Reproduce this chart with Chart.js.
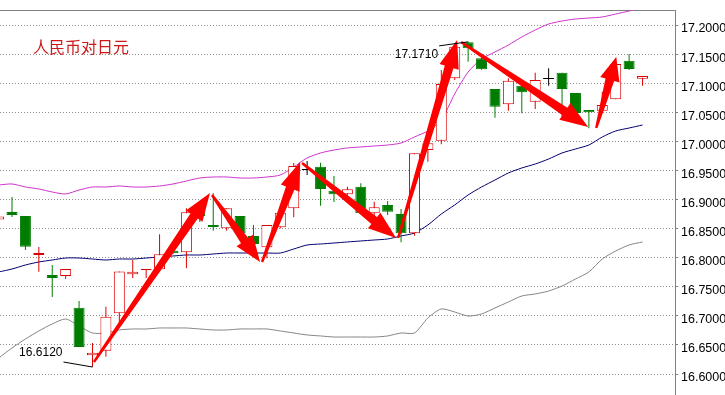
<!DOCTYPE html>
<html>
<head>
<meta charset="utf-8">
<style>
  html, body { margin: 0; padding: 0; background: #fff; }
  canvas { display: block; }
</style>
<script src="https://cdn.jsdelivr.net/npm/chart.js@4.4.1/dist/chart.umd.min.js"></script>
</head>
<body>
<canvas id="chart" width="725" height="395"></canvas>
<script>
// CNY/JPY daily candles
const opens  = [16.8656, 16.8785, 16.8717, 16.8046, 16.7702, 16.7685, 16.7140, 16.6322, 16.6401, 16.7044,
                16.7714, 16.7790, 16.7800, 16.8120, 16.8092, 16.8820, 16.8562, 16.8505, 16.8717, 16.8373,
                16.8178, 16.8522, 16.8849, 16.9507, 16.9564, 16.9151, 16.9090, 16.9220, 16.8763, 16.8906,
                16.8751, 16.8419, 16.9851, 17.0011, 17.1084, 17.1703, 17.1428, 17.0900, 17.0637, 17.0957,
                17.0681, 17.1072, 17.1180, 17.0831, 17.0539, 17.0527, 17.0723, 17.1386, 17.1077];
const highs  = [16.8730, 16.9043, 16.8717, 16.8184, 16.7874, 16.7805, 16.7255, 16.6533, 16.7157, 16.7762,
                16.7960, 16.7805, 16.8402, 16.8140, 16.8849, 16.8840, 16.9107, 16.8849, 16.8717, 16.8562,
                16.8562, 16.8773, 16.9628, 16.9662, 16.9633, 16.9404, 16.9220, 16.9279, 16.8962, 16.8974,
                16.8837, 16.9794, 17.0183, 17.1226, 17.1680, 17.1710, 17.1440, 17.0900, 17.1084, 17.0960,
                17.1180, 17.1256, 17.1180, 17.0831, 17.0539, 17.0853, 17.1428, 17.1501, 17.1123];
const lows   = [16.8640, 16.8699, 16.8132, 16.7759, 16.7324, 16.7633, 16.6464, 16.6120, 16.6298, 16.6877,
                16.7651, 16.7651, 16.7800, 16.8060, 16.7817, 16.8613, 16.8464, 16.8464, 16.8390, 16.8132,
                16.7989, 16.8505, 16.8694, 16.9421, 16.8894, 16.8957, 16.9026, 16.8763, 16.8488, 16.8734,
                16.8264, 16.8378, 16.9650, 16.9949, 17.1055, 17.1369, 17.1230, 17.0406, 17.0527, 17.0482,
                17.0556, 17.0957, 17.0384, 17.0470, 17.0224, 17.0500, 17.0723, 17.1226, 17.0957];
const closes = [16.8708, 16.8734, 16.8189, 16.8080, 16.7651, 16.7805, 16.6464, 16.6366, 16.6985, 16.7762,
                16.7759, 16.7805, 16.8058, 16.8075, 16.8780, 16.8717, 16.8527, 16.8849, 16.8419, 16.8235,
                16.8562, 16.8773, 16.9576, 16.9507, 16.9181, 16.9090, 16.9176, 16.8763, 16.8866, 16.8790,
                16.8419, 16.9794, 16.9966, 17.0986, 17.1627, 17.1599, 17.1238, 17.0596, 17.1042, 17.0843,
                17.1054, 17.1072, 17.0900, 17.0487, 17.0499, 17.0625, 17.1330, 17.1244, 17.1123];

// Bollinger bands
const upperBand  = [16.9249, 16.9267, 16.9215, 16.9181, 16.9129, 16.9095, 16.9163, 16.9215, 16.9215, 16.9232,
                    16.9215, 16.9215, 16.9232, 16.9267, 16.9318, 16.9370, 16.9387, 16.9387, 16.9370, 16.9370,
                    16.9387, 16.9421, 16.9559, 16.9714, 16.9800, 16.9851, 16.9886, 16.9903, 16.9920, 16.9937,
                    16.9971, 17.0075, 17.0178, 17.0367, 17.0815, 17.1192, 17.1416, 17.1536, 17.1656, 17.1794,
                    17.1914, 17.2017, 17.2069, 17.2103, 17.2120, 17.2138, 17.2189, 17.2241, 17.2309];
const middleBand = [16.7754, 16.7805, 16.7874, 16.7926, 16.7960, 16.7994, 16.7994, 16.7977, 16.7960, 16.7977,
                    16.7977, 16.7994, 16.8012, 16.8029, 16.8046, 16.8046, 16.8063, 16.8080, 16.8080, 16.8080,
                    16.8080, 16.8080, 16.8149, 16.8218, 16.8235, 16.8252, 16.8270, 16.8287, 16.8304, 16.8321,
                    16.8373, 16.8424, 16.8562, 16.8751, 16.8906, 16.9078, 16.9215, 16.9335, 16.9456, 16.9542,
                    16.9610, 16.9696, 16.9800, 16.9868, 16.9937, 17.0075, 17.0178, 17.0229, 17.0281];
const lowerBand  = [16.6275, 16.6447, 16.6602, 16.6740, 16.6860, 16.6946, 16.6826, 16.6705, 16.6705, 16.6757,
                    16.6774, 16.6774, 16.6791, 16.6791, 16.6791, 16.6774, 16.6757, 16.6757, 16.6774, 16.6774,
                    16.6774, 16.6740, 16.6705, 16.6671, 16.6654, 16.6636, 16.6636, 16.6636, 16.6636, 16.6654,
                    16.6705, 16.6705, 16.6963, 16.7118, 16.7066, 16.6997, 16.7032, 16.7135, 16.7238, 16.7341,
                    16.7376, 16.7427, 16.7513, 16.7633, 16.7754, 16.7977, 16.8115, 16.8218, 16.8270];

const tickValues = [16.60, 16.65, 16.70, 16.75, 16.80, 16.85, 16.90, 16.95, 17.00, 17.05, 17.10, 17.15, 17.20];

// trend arrows: [from candle, from price, to candle, to price]
const arrows = [
  [7.11, 16.6207, 15.76, 16.9112],
  [15.91, 16.9078, 19.49, 16.7926],
  [19.64, 16.7926, 22.48, 16.9645],
  [22.62, 16.9628, 29.63, 16.8338],
  [29.78, 16.8338, 34.18, 17.1742],
  [34.48, 17.1708, 43.95, 17.0247],
  [44.55, 17.0229, 46.04, 17.1450]
];

const title = '人民币对日元';

const RED = '#dd0000';
const GREEN = '#007d00';
const idx = opens.map((_, i) => i);
const candleColor = (i) => closes[i] > opens[i] ? RED : (closes[i] < opens[i] ? GREEN : '#000000');

const annotations = {
  id: 'annotations',
  afterDatasetsDraw(chart) {
    const { ctx, scales: { x, y } } = chart;
    ctx.save();

    // arrows
    ctx.fillStyle = '#ff0000';
    arrows.forEach(([x0, y0, x1, y1]) => {
      const ax = x.getPixelForValue(x0), ay = y.getPixelForValue(y0);
      const bx = x.getPixelForValue(x1), by = y.getPixelForValue(y1);
      const len = Math.hypot(bx - ax, by - ay);
      const ux = (bx - ax) / len, uy = (by - ay) / len;
      const nx = -uy, ny = ux;
      const head = Math.min(28, len * 0.32);
      const hw = 10, sw = 4.5, tw = 1.2;
      const hx = bx - ux * head, hy = by - uy * head;
      ctx.beginPath();
      ctx.moveTo(ax + nx * tw, ay + ny * tw);
      ctx.lineTo(hx + nx * sw, hy + ny * sw);
      ctx.lineTo(hx + nx * hw, hy + ny * hw);
      ctx.lineTo(bx, by);
      ctx.lineTo(hx - nx * hw, hy - ny * hw);
      ctx.lineTo(hx - nx * sw, hy - ny * sw);
      ctx.lineTo(ax - nx * tw, ay - ny * tw);
      ctx.closePath();
      ctx.fill();
    });

    // min / max price labels
    const lowIdx = lows.indexOf(Math.min(...lows));
    const highIdx = highs.indexOf(Math.max(...highs));
    ctx.strokeStyle = '#000';
    ctx.lineWidth = 1;
    ctx.fillStyle = '#000';
    ctx.font = '12px "Liberation Sans", Arial, sans-serif';
    ctx.textAlign = 'right';
    ctx.textBaseline = 'middle';

    let px = x.getPixelForValue(lowIdx), py = y.getPixelForValue(lows[lowIdx]);
    ctx.beginPath();
    ctx.moveTo(px - 29, py - 5);
    ctx.lineTo(px, py);
    ctx.stroke();
    ctx.fillText(lows[lowIdx].toFixed(4), px - 30, py - 14);

    px = x.getPixelForValue(highIdx); py = y.getPixelForValue(highs[highIdx]);
    ctx.beginPath();
    ctx.moveTo(px - 29, py + 4);
    ctx.lineTo(px, py);
    ctx.stroke();
    ctx.fillText(highs[highIdx].toFixed(4), px - 30, py + 13);

    // title
    ctx.fillStyle = '#cc1a1a';
    ctx.font = '16px "Noto Sans CJK SC", sans-serif';
    ctx.textAlign = 'left';
    ctx.fillText(title, chart.chartArea.left + 33, chart.chartArea.top + 37);

    ctx.restore();
  }
};

new Chart(document.getElementById('chart'), {
  type: 'bar',
  data: {
    datasets: [
      {
        label: 'body',
        data: idx.map(i => ({ x: i, y: [opens[i], closes[i]] })),
        backgroundColor: idx.map(i => closes[i] > opens[i] ? '#ffffff' : candleColor(i)),
        borderColor: idx.map(candleColor),
        borderWidth: 1,
        borderSkipped: false,
        inflateAmount: 0,
        barThickness: 11,
        minBarLength: 1,
        grouped: false,
        order: 0
      },
      {
        label: 'wick',
        data: idx.map(i => ({ x: i, y: [lows[i], highs[i]] })),
        backgroundColor: idx.map(candleColor),
        borderWidth: 0,
        inflateAmount: 0,
        barThickness: 1,
        grouped: false,
        order: 1
      },
      {
        type: 'line',
        label: 'upper',
        data: idx.map(i => ({ x: i, y: upperBand[i] })),
        borderColor: '#cc33cc',
        borderWidth: 1,
        pointRadius: 0,
        tension: 0.25,
        order: 2
      },
      {
        type: 'line',
        label: 'middle',
        data: idx.map(i => ({ x: i, y: middleBand[i] })),
        borderColor: '#000070',
        borderWidth: 1,
        pointRadius: 0,
        tension: 0.25,
        order: 2
      },
      {
        type: 'line',
        label: 'lower',
        data: idx.map(i => ({ x: i, y: lowerBand[i] })),
        borderColor: '#858585',
        borderWidth: 1,
        pointRadius: 0,
        tension: 0.25,
        order: 2
      }
    ]
  },
  options: {
    responsive: false,
    animation: false,
    devicePixelRatio: 1,
    layout: { padding: { top: 10, left: 0, right: 0, bottom: 0 } },
    plugins: {
      legend: { display: false },
      tooltip: { enabled: false }
    },
    scales: {
      x: {
        type: 'linear',
        position: 'top',
        offset: false,
        min: 0.1055,
        max: 50.42,
        ticks: { display: false },
        grid: { display: false, drawTicks: false },
        border: { display: true, color: '#808080' }
      },
      y: {
        position: 'right',
        min: 16.5639,
        max: 17.2258,
        afterBuildTicks: (scale) => {
          scale.ticks = tickValues.map(v => ({ value: v }));
        },
        afterFit: (scale) => {
          scale.width = 50;
          scale.paddingTop = 0;
          scale.paddingBottom = 0;
        },
        ticks: {
          callback: (v) => Number(v).toFixed(4),
          color: '#000',
          font: { family: '"Liberation Sans", Arial, sans-serif', size: 12.5 },
          padding: 3,
          labelOffset: 4
        },
        grid: { color: '#8c8c8c', tickLength: 3, tickColor: '#808080' },
        border: { display: true, color: '#808080', dash: [1, 2] }
      }
    }
  },
  plugins: [annotations]
});
</script>
</body>
</html>
